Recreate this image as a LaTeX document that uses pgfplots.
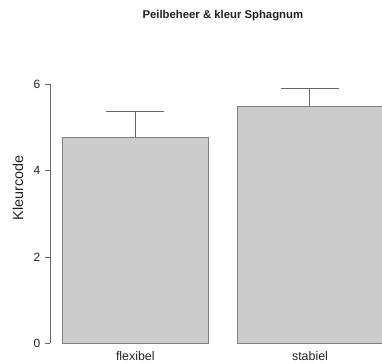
\documentclass[border=0pt]{standalone}
\usepackage{pgfplots}
\pgfplotsset{compat=1.18}
\usepackage{fontspec}
\setmainfont{Liberation Sans}
\definecolor{barfill}{HTML}{CCCCCC}
\definecolor{barline}{HTML}{808080}
\definecolor{axgray}{HTML}{666666}
\definecolor{txt}{HTML}{222222}
\begin{document}
\begin{tikzpicture}[x=0.75pt,y=0.75pt]
\begin{axis}[
  at={(37.5pt,14.775pt)}, anchor=south west,
  scale only axis,
  width=249.3pt, height=194.5pt,
  xmin=0.112, xmax=2.4,
  ymin=0, ymax=6,
  axis x line=none,
  axis y line=left,
  axis line style={-, draw=axgray},
  ytick={0,2,4,6},
  tick align=outside,
  major tick length=3.75pt,
  tick style={draw=axgray},
  xtick={0.7,1.9},
  xticklabels={flexibel,stabiel},
  /pgf/number format/assume math mode=true,
  yticklabel style={font=\fontsize{9}{10}\selectfont, text=txt},
  ybar,
  bar width=1,
  clip=false,
  title={\bfseries Peilbeheer \& kleur Sphagnum},
  title style={at={(rel axis cs:0.52,1.234)}, anchor=center, font=\fontsize{8.5}{10}\selectfont, text=txt},
  ylabel={Kleurcode},
  ylabel style={at={(rel axis cs:-0.096,0.60)}, anchor=center, rotate=0, font=\fontsize{10.8}{12}\selectfont, text=txt},
]
\addplot[fill=barfill, draw=barline, line width=0.6pt,
  error bars/.cd, y dir=plus, y explicit,
  error bar style={draw=axgray, line width=0.6pt},
  error mark options={draw=axgray, line width=0.6pt, mark size=21.75pt, rotate=90}]
  coordinates {(0.7,4.76) +- (0,0.61) (1.9,5.49) +- (0,0.41)};
\end{axis}
\node[font=\fontsize{9.3}{10}\selectfont, text=txt] at (135.3,7) {flexibel};
\node[font=\fontsize{9.3}{10}\selectfont, text=txt] at (310,7) {stabiel};
\pgfresetboundingbox
\path (0,0) rectangle (382,363);
\end{tikzpicture}
\end{document}
